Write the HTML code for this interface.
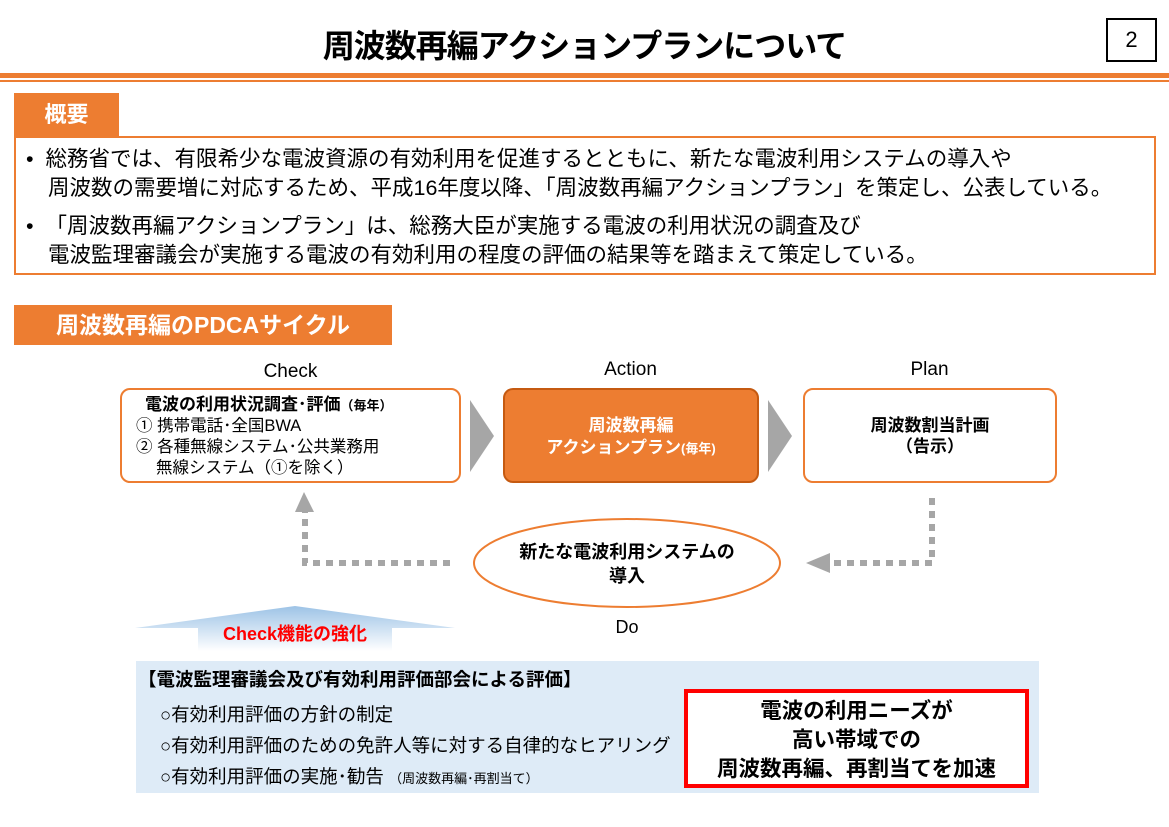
<!DOCTYPE html>
<html><head><meta charset="utf-8"><style>
*{margin:0;padding:0;box-sizing:border-box}
body{width:1169px;height:827px;background:#fff;position:relative;overflow:hidden;font-family:"Liberation Sans","Noto Sans CJK JP",sans-serif;color:#000}
.a{position:absolute}
.c{text-align:center}
.b{font-weight:bold}
</style></head><body>
<div class="a c b" style="left:0;width:1169px;top:24px;font-size:32px;line-height:44px;letter-spacing:-1px">周波数再編アクションプランについて</div>
<div class="a c" style="left:1106px;top:18px;width:51px;height:44px;border:2px solid #000;font-size:22px;line-height:40px">2</div>
<div class="a" style="left:0;top:73px;width:1169px;height:5px;background:#ED7D31"></div>
<div class="a" style="left:0;top:80px;width:1169px;height:2px;background:#ED7D31"></div>

<div class="a c b" style="left:14px;top:93px;width:105px;height:44px;background:#ED7D31;color:#fff;font-size:22px;line-height:44px">概要</div>
<div class="a" style="left:14px;top:136px;width:1142px;height:139px;border:2px solid #ED7D31"></div>
<div class="a" style="left:26px;top:145px;font-size:21.5px;line-height:29px;white-space:nowrap">
<div>•&nbsp; 総務省では、有限希少な電波資源の有効利用を促進するとともに、新たな電波利用システムの導入や</div>
<div style="padding-left:22px">周波数の需要増に対応するため、平成16年度以降、「周波数再編アクションプラン」を策定し、公表している。</div>
<div style="margin-top:9px">•&nbsp; 「周波数再編アクションプラン」は、総務大臣が実施する電波の利用状況の調査及び</div>
<div style="padding-left:22px">電波監理審議会が実施する電波の有効利用の程度の評価の結果等を踏まえて策定している。</div>
</div>

<div class="a c b" style="left:14px;top:305px;width:378px;height:40px;background:#ED7D31;color:#fff;font-size:23px;line-height:40px">周波数再編のPDCAサイクル</div>

<div class="a c" style="left:120px;width:341px;top:360px;font-size:19px;line-height:24px">Check</div>
<div class="a c" style="left:503px;width:255px;top:358px;font-size:19px;line-height:24px">Action</div>
<div class="a c" style="left:803px;width:253px;top:358px;font-size:19px;line-height:24px">Plan</div>

<div class="a" style="left:120px;top:388px;width:341px;height:95px;border:2px solid #ED7D31;border-radius:10px;font-size:16.5px;line-height:21px;padding:4px 0 0 14px;white-space:nowrap">
<div class="b" style="padding-left:9px;font-size:17px">電波の利用状況調査･評価<span style="font-size:13px">（毎年）</span></div>
<div>① 携帯電話･全国BWA</div>
<div>② 各種無線システム･公共業務用</div>
<div style="padding-left:20px">無線システム（①を除く）</div>
</div>
<div class="a c b" style="left:503px;top:388px;width:256px;height:95px;background:#ED7D31;border:2px solid #C55A11;border-radius:10px;color:#fff;font-size:17px;line-height:22px;padding-top:25px">周波数再編<br>アクションプラン<span style="font-size:13px">(毎年)</span></div>
<div class="a c b" style="left:803px;top:388px;width:254px;height:95px;border:2px solid #ED7D31;border-radius:10px;font-size:17px;line-height:21px;padding-top:25px">周波数割当計画<br>（告示）</div>

<svg class="a" style="left:0;top:0" width="1169" height="827">
<polygon points="470,400 494,436 470,472" fill="#A6A6A6"/>
<polygon points="768,400 792,436 768,472" fill="#A6A6A6"/>
<ellipse cx="627" cy="563" rx="153" ry="44" fill="#fff" stroke="#ED7D31" stroke-width="2"/>
<polyline points="450,563 305,563 305,512" fill="none" stroke="#A6A6A6" stroke-width="6" stroke-dasharray="7,6"/>
<polygon points="295,512 304,492 314,512" fill="#A6A6A6"/>
<polyline points="932,498 932,563 830,563" fill="none" stroke="#A6A6A6" stroke-width="6" stroke-dasharray="7,6"/>
<polygon points="830,553 806,563 830,573" fill="#A6A6A6"/>
<defs><linearGradient id="g" x1="0" y1="0" x2="0" y2="1"><stop offset="0" stop-color="#9DC3E6"/><stop offset="1" stop-color="#fff"/></linearGradient></defs>
<polygon points="135,628 295,606 455,628 392,628 392,651 198,651 198,628" fill="url(#g)"/>
</svg>
<div class="a c b" style="left:469px;width:316px;top:540px;font-size:18px;line-height:24px">新たな電波利用システムの<br>導入</div>
<div class="a c" style="left:597px;width:60px;top:616px;font-size:18px;line-height:22px">Do</div>
<div class="a c b" style="left:198px;width:194px;top:622px;font-size:18px;line-height:24px;color:#FF0000">Check機能の強化</div>

<div class="a" style="left:136px;top:661px;width:903px;height:132px;background:#DEEBF7"></div>
<div class="a b" style="left:138px;top:669px;font-size:18.5px;line-height:22px">【電波監理審議会及び有効利用評価部会による評価】</div>
<div class="a" style="left:160px;top:699px;font-size:18.5px;line-height:31px;white-space:nowrap">
<div>○有効利用評価の方針の制定</div>
<div>○有効利用評価のための免許人等に対する自律的なヒアリング</div>
<div>○有効利用評価の実施･勧告 <span style="font-size:13px">（周波数再編･再割当て）</span></div>
</div>
<div class="a c b" style="left:684px;top:689px;width:345px;height:99px;background:#fff;border:4px solid #FF0000;font-size:21.5px;line-height:29px;padding-top:4px">電波の利用ニーズが<br>高い帯域での<br>周波数再編、再割当てを加速</div>
</body></html>
